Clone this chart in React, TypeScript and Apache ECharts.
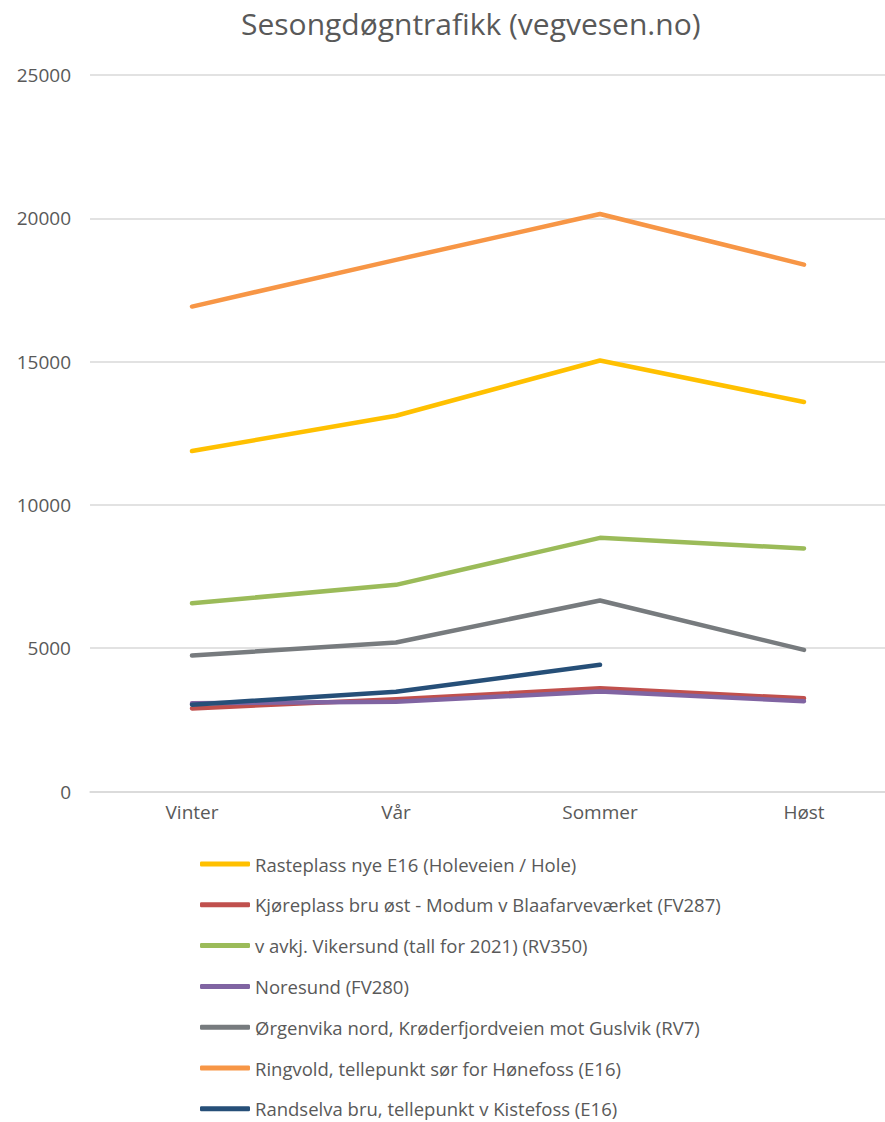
import React, { useEffect, useRef } from "react";
import * as echarts from "echarts";

// Seasons on the category axis
const seasons = ["Vinter", "Vår", "Sommer", "Høst"];

// Average daily traffic per season for each counting point
const rasteplassE16 = [11880, 13110, 15040, 13590];
const kjoreplassFV287 = [2900, 3220, 3600, 3250];
const vikersundRV350 = [6570, 7210, 8850, 8480];
const noresundFV280 = [3080, 3130, 3490, 3150];
const orgenvikaRV7 = [4745, 5200, 6665, 4940];
const ringvoldE16 = [16920, 18550, 20150, 18385];
const randselvaE16 = [3030, 3480, 4420, null];

const seriesNames = [
  "Rasteplass nye E16 (Holeveien / Hole)",
  "Kjøreplass bru øst - Modum v Blaafarveværket (FV287)",
  "v avkj. Vikersund (tall for 2021) (RV350)",
  "Noresund (FV280)",
  "Ørgenvika nord, Krøderfjordveien mot Guslvik (RV7)",
  "Ringvold, tellepunkt sør for Hønefoss (E16)",
  "Randselva bru, tellepunkt v Kistefoss (E16)",
];
const seriesValues = [
  rasteplassE16,
  kjoreplassFV287,
  vikersundRV350,
  noresundFV280,
  orgenvikaRV7,
  ringvoldE16,
  randselvaE16,
];
const seriesColors = [
  "#FFC000",
  "#C0504D",
  "#9BBB59",
  "#8064A2",
  "#777B7E",
  "#F79646",
  "#264F78",
];

const FONT = "'Open Sans', sans-serif";

export default function App() {
  const ref = useRef<HTMLDivElement>(null);

  useEffect(() => {
    document.body.style.margin = "0";
    if (!ref.current) return;
    const chart = echarts.init(ref.current, null, { renderer: "svg" });
    chart.setOption({
      animation: false,
      backgroundColor: "#ffffff",
      title: {
        text: "Sesongdøgntrafikk (vegvesen.no)",
        left: 236,
        top: 3,
        textStyle: {
          fontFamily: FONT,
          fontSize: 30,
          fontWeight: "normal",
          color: "#595959",
        },
      },
      grid: {
        left: 90,
        top: 75,
        width: 816,
        height: 716.5,
        containLabel: false,
        outerBoundsMode: "none",
      },
      xAxis: {
        type: "category",
        data: seasons,
        boundaryGap: true,
        axisLine: { lineStyle: { color: "#d9d9d9", width: 1.5 } },
        axisTick: { show: false },
        axisLabel: {
          margin: 11,
          fontFamily: FONT,
          fontSize: 19,
          color: "#595959",
        },
      },
      yAxis: {
        type: "value",
        min: 0,
        max: 25000,
        interval: 5000,
        axisLine: { show: false },
        axisTick: { show: false },
        splitLine: { lineStyle: { color: "#d9d9d9", width: 1.5 } },
        axisLabel: {
          margin: 19,
          fontFamily: FONT,
          fontSize: 19,
          color: "#595959",
          formatter: (v: number) => String(v),
        },
      },
      legend: {
        orient: "vertical",
        left: 200,
        top: 854,
        height: 300,
        padding: 0,
        itemWidth: 50,
        itemHeight: 5,
        itemGap: 20.8,
        icon: "roundRect",
        textStyle: {
          fontFamily: FONT,
          fontSize: 18.5,
          color: "#595959",
          lineHeight: 20,
        },
        data: seriesNames,
      },
      series: seriesNames.map((name, i) => ({
        name,
        type: "line",
        data: seriesValues[i],
        symbol: "none",
        connectNulls: false,
        color: seriesColors[i],
        lineStyle: {
          width: 4.5,
          color: seriesColors[i],
          cap: "round",
          join: "round",
        },
      })),
    });
    return () => chart.dispose();
  }, []);

  return <div ref={ref} style={{ width: 885, height: 1122, overflow: "hidden" }} />;
}
